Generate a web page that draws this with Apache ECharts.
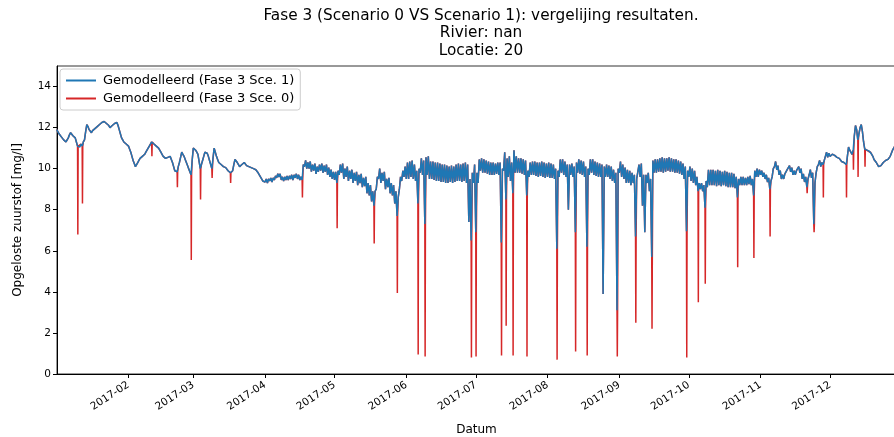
<!DOCTYPE html>
<html>
<head>
<meta charset="utf-8">
<title>Fase 3 vergelijking</title>
<script src="https://cdn.jsdelivr.net/npm/echarts@6/dist/echarts.min.js"></script>
<style>
  html, body { margin: 0; padding: 0; background: #fff; }
  #chart { width: 894px; height: 437px; }
</style>
</head>
<body>
<div id="chart"></div>
<script>
// Sce. 1 (mg/l), two readings a day: 00:00 and 12:00
const jan00 = [11.9, 11.7, 11.55, 11.4, 11.3, 11.5, 11.75, 11.6, 11.5, 11.1, 11.05, 11.1, 11.4, 12.15, 11.9, 11.75,
  11.9, 12.0, 12.1, 12.2, 12.25, 12.25, 12.15, 12.0, 12.1, 12.2, 12.25, 11.9, 11.5, 11.3, 11.2]
const jan12 = [11.8, 11.65, 11.5, 11.35, 11.4, 11.65, 11.7, 11.55, 11.3, 11.15, 11.2, 11.3, 11.8, 12.05, 11.85, 11.85,
  11.95, 12.05, 12.15, 12.25, 12.3, 12.2, 12.1, 12.05, 12.15, 12.25, 12.1, 11.7, 11.4, 11.3, 11.15]
const feb00 = [11.1, 10.8, 10.4, 10.1, 10.3, 10.5, 10.6, 10.7, 10.9, 11.1, 11.3, 11.2, 11.1, 11.0, 10.8, 10.6,
  10.5, 10.55, 10.6, 10.3, 9.9, 9.85, 10.3, 10.8, 10.6, 10.3, 10.0, 9.7]
const feb12 = [10.95, 10.6, 10.25, 10.2, 10.4, 10.55, 10.65, 10.8, 11.0, 11.2, 11.25, 11.15, 11.05, 10.9, 10.7, 10.55,
  10.5, 10.6, 10.45, 10.1, 9.85, 10.1, 10.55, 10.7, 10.45, 10.15, 9.85, 10.4]
const mar00 = [11.0, 10.9, 10.7, 10.0, 10.4, 10.8, 10.75, 10.4, 10.0, 11.0, 10.6, 10.3, 10.2, 10.1, 10.05, 9.9,
  9.8, 9.9, 10.45, 10.3, 10.1, 10.2, 10.3, 10.15, 10.1, 10.05, 10.0, 9.95, 9.8, 9.6, 9.4]
const mar12 = [10.95, 10.8, 10.35, 10.2, 10.6, 10.8, 10.6, 10.2, 10.5, 10.8, 10.45, 10.25, 10.15, 10.1, 10.0, 9.85,
  9.85, 10.2, 10.4, 10.2, 10.15, 10.25, 10.25, 10.1, 10.1, 10.0, 10.0, 9.9, 9.7, 9.5, 9.4]
const apr00 = [9.35, 9.3, 9.4, 9.35, 9.45, 9.55, 9.6, 9.45, 9.4, 9.45, 9.45, 9.5, 9.45, 9.55, 9.5, 9.45,
  9.45, 10.1, 10.0, 10.0, 9.85, 9.9, 9.75, 9.85, 9.9, 9.8, 9.85, 9.7, 9.6, 9.5]
const apr12 = [9.5, 9.5, 9.55, 9.55, 9.65, 9.75, 9.75, 9.6, 9.6, 9.65, 9.65, 9.7, 9.7, 9.75, 9.7, 9.6,
  10.2, 10.4, 10.3, 10.35, 10.2, 10.25, 10.1, 10.2, 10.25, 10.15, 10.2, 10.05, 9.95, 9.85]
const may00 = [9.45, 9.3, 9.7, 9.8, 9.5, 9.6, 9.4, 9.5, 9.3, 9.4, 9.2, 9.3, 9.1, 9.15, 8.8, 8.7,
  8.4, 8.2, 9.0, 9.5, 9.3, 9.4, 9.0, 9.1, 8.8, 8.7, 8.3, 7.7, 9.0, 9.4, 9.6]
const may12 = [9.85, 9.9, 10.2, 10.25, 10.0, 10.1, 9.9, 9.95, 9.8, 9.85, 9.7, 9.75, 9.55, 9.6, 9.3, 9.2,
  8.9, 8.9, 9.6, 10.0, 9.8, 9.85, 9.5, 9.55, 9.3, 9.2, 8.9, 8.6, 9.6, 9.9, 10.1]
const jun00 = [9.5, 9.5, 9.6, 9.5, 9.4, 8.3, 9.8, 9.7, 7.3, 9.7, 9.5, 9.5, 9.45, 9.4, 9.4, 9.35,
  9.35, 9.3, 9.3, 9.35, 9.3, 9.35, 9.4, 9.4, 9.35, 9.4, 9.3, 7.4, 6.5, 9.3]
const jun12 = [10.3, 10.35, 10.4, 10.2, 9.9, 10.0, 10.5, 10.4, 10.55, 10.6, 10.35, 10.35, 10.3, 10.3, 10.25, 10.2,
  10.2, 10.15, 10.1, 10.15, 10.1, 10.2, 10.25, 10.2, 10.25, 10.3, 10.2, 9.5, 9.8, 10.2]
const jul00 = [6.9, 9.3, 9.9, 9.8, 9.8, 9.75, 9.7, 9.7, 9.7, 9.75, 9.7, 6.4, 9.9, 8.5, 9.6, 9.4,
  8.8, 9.8, 9.8, 9.8, 9.75, 9.7, 8.7, 9.6, 9.7, 9.7, 9.65, 9.6, 9.65, 9.6, 9.55]
const jul12 = [9.8, 10.45, 10.5, 10.45, 10.4, 10.35, 10.3, 10.3, 10.25, 10.3, 10.3, 10.0, 10.8, 10.5, 10.6, 10.3,
  10.9, 10.6, 10.5, 10.5, 10.45, 10.4, 9.9, 10.3, 10.35, 10.35, 10.3, 10.3, 10.35, 10.3, 10.25]
const aug00 = [9.6, 9.55, 9.55, 9.5, 6.1, 9.6, 9.8, 9.7, 9.6, 8.0, 9.7, 9.6, 6.9, 9.8, 9.75, 9.7,
  9.6, 6.2, 9.7, 9.8, 9.7, 9.65, 9.6, 9.6, 3.9, 9.6, 9.6, 9.5, 9.4, 9.3, 3.1]
const aug12 = [10.3, 10.25, 10.2, 10.0, 9.9, 10.45, 10.45, 10.35, 10.2, 10.2, 10.25, 10.1, 10.3, 10.45, 10.4, 10.35,
  10.1, 10.0, 10.45, 10.45, 10.35, 10.3, 10.25, 10.2, 10.1, 10.2, 10.15, 10.1, 9.95, 9.8, 10.0]
const sep00 = [9.8, 9.6, 9.5, 9.3, 9.3, 9.2, 9.3, 6.7, 9.5, 9.6, 8.2, 6.9, 9.3, 8.9, 5.7, 9.8,
  9.8, 9.85, 9.85, 9.8, 9.85, 9.9, 9.85, 9.85, 9.8, 9.8, 9.75, 9.7, 9.5, 6.95]
const sep12 = [10.35, 10.2, 10.05, 9.95, 9.9, 9.8, 9.7, 9.5, 10.2, 10.25, 9.7, 9.7, 9.8, 9.5, 10.4, 10.45,
  10.45, 10.5, 10.55, 10.5, 10.5, 10.55, 10.5, 10.45, 10.45, 10.4, 10.35, 10.25, 10.1, 9.9]
const oct00 = [9.6, 9.4, 9.3, 9.2, 8.9, 9.0, 8.9, 8.1, 9.1, 9.2, 9.2, 9.2, 9.15, 9.2, 9.15, 9.2,
  9.15, 9.1, 9.1, 9.1, 9.05, 8.6, 9.2, 9.2, 9.2, 9.2, 9.25, 9.2, 8.7, 9.6, 9.6]
const oct12 = [10.1, 10.0, 9.9, 9.6, 9.3, 9.3, 9.2, 9.4, 9.95, 9.95, 9.95, 9.9, 9.95, 9.9, 9.85, 9.9,
  9.85, 9.8, 9.8, 9.75, 9.6, 9.5, 9.6, 9.6, 9.55, 9.6, 9.65, 9.5, 9.9, 10.0, 9.95]
const nov00 = [9.7, 9.6, 9.5, 9.35, 9.0, 9.6, 10.1, 9.95, 9.7, 9.5, 9.5, 9.75, 9.95, 9.85, 9.7, 9.7,
  9.9, 9.8, 9.5, 9.35, 9.1, 9.7, 9.55, 7.3, 9.8, 10.2, 10.1, 10.2, 10.6, 10.55]
const nov12 = [9.9, 9.8, 9.7, 9.55, 9.4, 10.0, 10.35, 10.15, 9.9, 9.7, 9.75, 9.95, 10.15, 10.05, 9.9, 9.9,
  10.1, 10.0, 9.75, 9.6, 9.5, 9.95, 9.8, 9.3, 10.1, 10.4, 10.3, 10.4, 10.8, 10.75]
const dec00 = [10.6, 10.7, 10.65, 10.55, 10.5, 10.35, 10.3, 10.2, 11.05, 10.8, 10.9, 12.1, 11.4, 12.0, 11.8, 10.95,
  10.9, 10.85, 10.7, 10.45, 10.3, 10.1, 10.15, 10.3, 10.4, 10.45, 10.6, 10.9, 11.1]
const dec12 = [10.65, 10.7, 10.6, 10.5, 10.45, 10.3, 10.25, 10.6, 10.9, 10.7, 11.6, 11.9, 11.7, 12.15, 11.3, 10.9,
  10.85, 10.8, 10.6, 10.4, 10.2, 10.1, 10.2, 10.35, 10.45, 10.5, 10.75, 11.0, 11.15]

const midnight = [jan00, feb00, mar00, apr00, may00, jun00, jul00, aug00, sep00, oct00, nov00, dec00]
const noon = [jan12, feb12, mar12, apr12, may12, jun12, jul12, aug12, sep12, oct12, nov12, dec12]

// Sce. 0 follows Sce. 1 except for these dips
const spikeDates = ['2017-01-10', '2017-01-12', '2017-02-11', '2017-02-22', '2017-02-28', '2017-03-04',
  '2017-03-09', '2017-03-17', '2017-04-17', '2017-05-02', '2017-05-18', '2017-05-28', '2017-06-06',
  '2017-06-09', '2017-06-29', '2017-07-01', '2017-07-12', '2017-07-14', '2017-07-17', '2017-07-23',
  '2017-08-05', '2017-08-13', '2017-08-18', '2017-08-31', '2017-09-08', '2017-09-15', '2017-09-30',
  '2017-10-05', '2017-10-08', '2017-10-22', '2017-10-29', '2017-11-05', '2017-11-21', '2017-11-24',
  '2017-11-28', '2017-12-08', '2017-12-11', '2017-12-13', '2017-12-16']
const spikeMins = [6.8, 8.3, 10.6, 9.1, 5.55, 8.5, 9.55, 9.3, 8.6, 7.1, 6.35, 3.95, 0.95, 0.85, 0.8,
  0.85, 0.9, 2.35, 0.9, 0.85, 0.7, 1.1, 0.9, 0.85, 2.5, 2.2, 0.8, 3.5, 4.4, 5.2, 5.65, 6.7, 8.8, 6.9,
  8.6, 8.6, 9.95, 9.6, 10.1]

const nameSce1 = 'Gemodelleerd (Fase 3 Sce. 1)'
const nameSce0 = 'Gemodelleerd (Fase 3 Sce. 0)'
const FONT = 'DejaVu Sans'
const HOUR = 3600e3
const DAY = 24 * HOUR

const sce1Data = []
midnight.forEach((vals, m) => {
  vals.forEach((v, i) => {
    const t = Date.UTC(2017, m, i + 1)
    sce1Data.push([t, v])
    sce1Data.push([t + 12 * HOUR, noon[m][i]])
  })
})

const spikeMap = {}
spikeDates.forEach((d, i) => { spikeMap[Date.parse(d)] = spikeMins[i] })

const sce0Data = []
sce1Data.forEach(([t, v]) => {
  sce0Data.push([t, v])
  if (spikeMap[t] !== undefined) {
    sce0Data.push([t + 3 * HOUR, spikeMap[t]])
    sce0Data.push([t + 6 * HOUR, v])
  }
})

const chart = echarts.init(document.getElementById('chart'))

const option = {
  animation: false,
  useUTC: true,
  backgroundColor: '#fff',
  textStyle: { fontFamily: FONT },
  title: {
    text: 'Fase 3 (Scenario 0 VS Scenario 1): vergelijing resultaten.\nRivier: nan\nLocatie: 20',
    left: 476,
    top: 2,
    textAlign: 'center',
    textStyle: {
      fontFamily: FONT,
      fontSize: 15.3,
      lineHeight: 17.5,
      fontWeight: 'normal',
      color: '#000'
    }
  },
  legend: {
    data: [nameSce1, nameSce0],
    orient: 'vertical',
    left: 60,
    top: 69,
    padding: [5, 6, 5, 6],
    itemGap: 5,
    itemWidth: 30,
    itemHeight: 2,
    icon: 'rect',
    backgroundColor: 'rgba(255,255,255,0.8)',
    borderColor: '#ccc',
    borderWidth: 1,
    borderRadius: 3,
    textStyle: { fontFamily: FONT, fontSize: 13, color: '#000', padding: [0, 0, 0, 2] }
  },
  grid: {
    left: 57,
    right: -2,
    top: 66,
    bottom: 63,
    outerBoundsMode: 'none',
    show: true,
    borderColor: '#333',
    borderWidth: 1
  },
  xAxis: {
    type: 'time',
    min: Date.UTC(2017, 0, 1, 3),
    max: Date.UTC(2017, 11, 29, 12),
    minInterval: 28 * DAY,
    maxInterval: 31 * DAY,
    splitNumber: 11,
    name: 'Datum',
    nameLocation: 'middle',
    nameGap: 50,
    nameTextStyle: { fontFamily: FONT, fontSize: 12, color: '#000' },
    splitLine: { show: false },
    axisLine: { lineStyle: { color: '#000', width: 1 } },
    axisTick: { length: 4, lineStyle: { color: '#000' } },
    axisLabel: {
      rotate: 33,
      margin: 10,
      fontFamily: FONT,
      fontSize: 10.5,
      color: '#000',
      showMinLabel: false,
      showMaxLabel: false,
      formatter: function (value) {
        const d = new Date(value)
        const m = d.getUTCMonth() + 1
        return d.getUTCFullYear() + '-' + (m < 10 ? '0' + m : m)
      }
    }
  },
  yAxis: {
    type: 'value',
    min: 0,
    max: 15,
    interval: 2,
    name: 'Opgeloste zuurstof [mg/l]',
    nameLocation: 'middle',
    nameGap: 33,
    nameTextStyle: { fontFamily: FONT, fontSize: 12, color: '#000' },
    splitLine: { show: false },
    axisLine: { show: true, lineStyle: { color: '#000', width: 1 } },
    axisTick: { show: true, length: 4, lineStyle: { color: '#000' } },
    axisLabel: {
      margin: 6,
      fontFamily: FONT,
      fontSize: 10.5,
      color: '#000',
      showMaxLabel: false
    }
  },
  series: [
    {
      name: nameSce0,
      type: 'line',
      data: sce0Data,
      symbol: 'none',
      lineStyle: { color: '#d62728', width: 1.5 },
      itemStyle: { color: '#d62728' }
    },
    {
      name: nameSce1,
      type: 'line',
      data: sce1Data,
      symbol: 'none',
      lineStyle: { color: '#1f77b4', width: 1.5 },
      itemStyle: { color: '#1f77b4' }
    }
  ]
}

chart.setOption(option)
</script>
</body>
</html>
